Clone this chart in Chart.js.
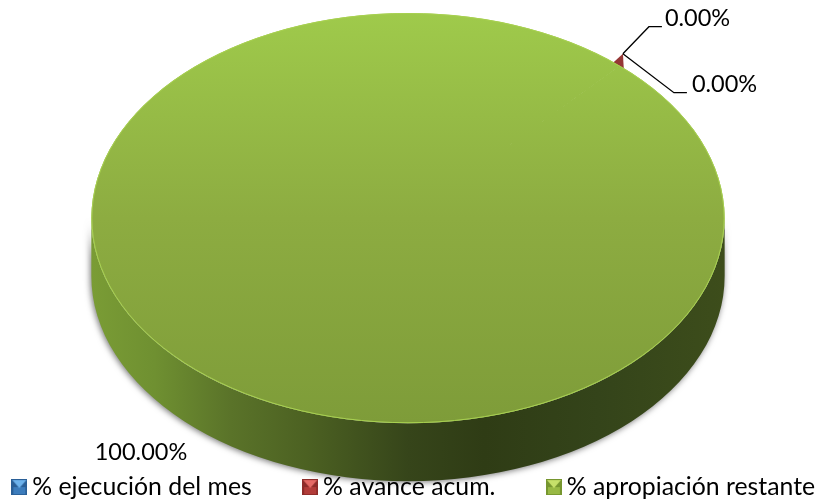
<!DOCTYPE html>
<html><head><meta charset="utf-8">
<style>html,body{margin:0;padding:0;background:#fff}#w{position:relative;width:816px;height:502px}</style>
<script src="https://cdn.jsdelivr.net/npm/chart.js@4/dist/chart.umd.js"></script>
</head><body><div id="w"><canvas id="c" width="816" height="502"></canvas></div>
<script>
const categories = ["% ejecución del mes", "% avance acum.", "% apropiación restante"];
const values = [0.0, 0.004, 99.996];
const FONT = '23.5px Lato';
const STRETCH = 316.5 / 205;
const DEPTH = 58;

function swatch(side, top, bottom) {
  const s = document.createElement('canvas');
  s.width = 16; s.height = 16;
  const g = s.getContext('2d');
  g.fillStyle = side; g.fillRect(0, 0, 16, 16);
  g.fillStyle = bottom; g.fillRect(2, 8, 12, 7);
  g.fillStyle = top;
  g.beginPath(); g.moveTo(1, 1); g.lineTo(15, 1); g.lineTo(8, 9); g.closePath(); g.fill();
  return s;
}
const swatches = [
  swatch('#2a5f97', '#6db2ec', '#3c7cbc'),
  swatch('#8e2c2a', '#e56a66', '#b23c39'),
  swatch('#76962f', '#c6e06a', '#98b944')
];

function topFill(c) {
  if (c.dataIndex === 0) return '#4f81bd';
  if (c.dataIndex === 1) return '#953735';
  const a = c.chart.chartArea;
  if (!a) return '#8cab40';
  const g = c.chart.ctx.createLinearGradient(0, a.top, 0, a.bottom);
  g.addColorStop(0, '#9fca4b');
  g.addColorStop(0.5, '#8dac41');
  g.addColorStop(1, '#7e9c39');
  return g;
}

const disc3d = {
  id: 'disc3d',
  afterLayout(chart) {
    chart.legend.left += 6.5; chart.legend.right += 6.5;
    chart.legend.top -= 6.5; chart.legend.bottom -= 6.5;
  },
  beforeDatasetsDraw(chart) {
    const arcs = chart.getDatasetMeta(0).data;
    const a = arcs[2], ctx = chart.ctx;
    const cx = a.x, cy = a.y, ry = a.outerRadius, rx = ry * STRETCH;
    ctx.save();
    const wall = ctx.createLinearGradient(cx - rx, 0, cx + rx, 0);
    wall.addColorStop(0, '#7a9c35');
    wall.addColorStop(0.1, '#6f9031');
    wall.addColorStop(0.22, '#5a7329');
    wall.addColorStop(0.34, '#4c6122');
    wall.addColorStop(0.5, '#36451a');
    wall.addColorStop(0.62, '#2f3c15');
    wall.addColorStop(0.8, '#34441a');
    wall.addColorStop(1, '#3d4d1b');
    ctx.shadowColor = 'rgba(0,0,0,0.55)';
    ctx.shadowBlur = 6;
    ctx.shadowOffsetX = -1;
    ctx.shadowOffsetY = 1;
    ctx.fillStyle = wall;
    ctx.beginPath();
    ctx.ellipse(cx, cy, rx, ry, 0, Math.PI, 0, true);
    ctx.lineTo(cx + rx, cy + DEPTH);
    ctx.ellipse(cx, cy + DEPTH, rx, ry, 0, 0, Math.PI, false);
    ctx.closePath();
    ctx.fill();
    ctx.restore();

    const r = arcs[1];
    const mid = (r.startAngle + r.endAngle) / 2;
    const px = cx + rx * Math.cos(mid), py = cy + ry * Math.sin(mid);
    ctx.save();
    ctx.fillStyle = '#953735';
    ctx.beginPath();
    ctx.moveTo(px - 8, py - 2);
    ctx.lineTo(px + 3, py - 12);
    ctx.lineTo(px + 4, py + 5);
    ctx.closePath();
    ctx.fill();
    ctx.restore();

    ctx.save();
    ctx.translate(cx, 0);
    ctx.scale(STRETCH, 1);
    ctx.translate(-cx, 0);
  },
  afterDatasetsDraw(chart) {
    const arcs = chart.getDatasetMeta(0).data;
    const a = arcs[2], ctx = chart.ctx;
    ctx.restore();
    const cx = a.x, cy = a.y, ry = a.outerRadius, rx = ry * STRETCH;
    ctx.save();
    ctx.strokeStyle = '#a8d150';
    ctx.lineWidth = 1;
    ctx.beginPath();
    ctx.ellipse(cx, cy, rx - 0.5, ry - 0.5, 0, 0, Math.PI * 2);
    ctx.stroke();

    const r = arcs[1];
    const mid = (r.startAngle + r.endAngle) / 2;
    const tx = cx + rx * Math.cos(mid) + 3, ty = cy + ry * Math.sin(mid) - 12;
    ctx.strokeStyle = '#000';
    ctx.lineWidth = 1.3;
    ctx.beginPath();
    ctx.moveTo(tx, ty); ctx.lineTo(tx + 26, ty - 27); ctx.lineTo(tx + 39, ty - 27);
    ctx.moveTo(tx, ty); ctx.lineTo(tx + 51, ty + 39); ctx.lineTo(tx + 64, ty + 39);
    ctx.stroke();

    ctx.fillStyle = '#000';
    ctx.font = FONT;
    ctx.textBaseline = 'middle';
    ctx.textAlign = 'left';
    ctx.fillText(values[0].toFixed(2) + '%', tx + 42, ty - 35);
    ctx.fillText(values[1].toFixed(2) + '%', tx + 69, ty + 31);
    ctx.textAlign = 'center';
    ctx.fillText(values[2].toFixed(2) + '%', 141, 452);
    ctx.restore();
  }
};

new Chart(document.getElementById('c'), {
  type: 'pie',
  plugins: [disc3d],
  data: {
    labels: categories,
    datasets: [{ data: values, backgroundColor: topFill, borderWidth: 0, clip: false }]
  },
  options: {
    responsive: false,
    animation: false,
    rotation: 42,
    layout: { padding: { top: 13, left: -100, right: -105, bottom: -14 } },
    plugins: {
      tooltip: { enabled: false },
      legend: {
        position: 'bottom',
        labels: {
          color: '#000',
          font: { family: 'Lato', size: 24.8 },
          padding: 58,
          usePointStyle: true,
          pointStyleWidth: 1,
          generateLabels(chart) {
            return chart.data.labels.map((t, i) => ({
              text: t, pointStyle: swatches[i], datasetIndex: 0, index: i,
              fontColor: '#000', lineWidth: 0, hidden: false
            }));
          }
        }
      }
    }
  }
});
</script></body></html>
